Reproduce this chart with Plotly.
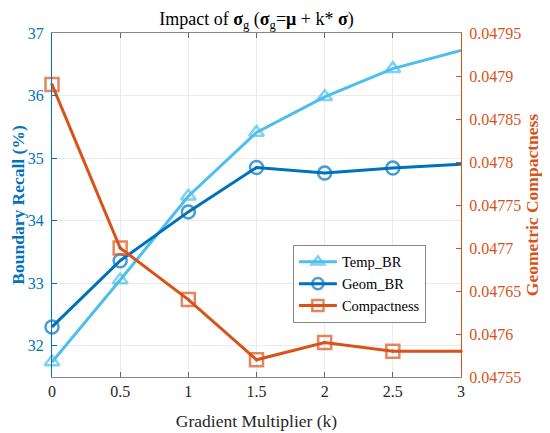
import plotly.graph_objects as go

# данные
k = [0, 0.5, 1, 1.5, 2, 2.5, 3]
temp_br = [31.74, 33.05, 34.39, 35.41, 35.98, 36.43, 36.72]
geom_br = [32.30, 33.36, 34.14, 34.85, 34.76, 34.84, 34.90]
compactness = [0.04789, 0.04770, 0.04764, 0.04757, 0.04759, 0.04758, 0.04758]

x_ticks = [0, 0.5, 1, 1.5, 2, 2.5, 3]
left_ticks = [32, 33, 34, 35, 36, 37]
right_ticks = [0.04755, 0.0476, 0.04765, 0.0477, 0.04775, 0.0478, 0.04785, 0.0479, 0.04795]

c_temp = "#4DBEEE"
c_geom = "#0072BD"
c_comp = "#D95319"
font = "Liberation Serif"

# маркер на последней точке не рисуется (в оригинале он срезан краем осей)
msize = [13] * (len(k) - 1) + [0]

fig = go.Figure()
fig.add_trace(go.Scatter(x=k, y=temp_br, name="Temp_BR", mode="lines+markers",
                         cliponaxis=False,
                         line=dict(color=c_temp, width=3),
                         marker=dict(symbol="triangle-up-open", size=msize,
                                     line=dict(width=2.5, color=c_temp))))
fig.add_trace(go.Scatter(x=k, y=geom_br, name="Geom_BR", mode="lines+markers",
                         cliponaxis=False,
                         line=dict(color=c_geom, width=3),
                         marker=dict(symbol="circle-open", size=msize,
                                     line=dict(width=2.5, color=c_geom))))
fig.add_trace(go.Scatter(x=k, y=compactness, name="Compactness", mode="lines+markers",
                         yaxis="y2", cliponaxis=False,
                         line=dict(color=c_comp, width=3),
                         marker=dict(symbol="square-open-dot", size=msize,
                                     line=dict(width=2.5, color=c_comp))))

# страница имеет отступ 8px, поэтому фигура чуть меньше окна
fig.update_layout(
    width=542, height=425,
    margin=dict(l=44, r=89, t=25, b=56),
    paper_bgcolor="white", plot_bgcolor="white",
    font=dict(family=font, size=16, color="#262626"),
    title=dict(text="Impact of <b>σ</b><sub>g</sub> (<b>σ</b><sub>g</sub>=<b>μ</b> + k* <b>σ</b>)",
               x=0.5, xref="paper", xanchor="center", y=0.99, yanchor="top",
               font=dict(family=font, size=18, color="black")),
    xaxis=dict(range=[0, 3], tickvals=x_ticks, ticktext=[f"{v:g}" for v in x_ticks],
               automargin=False,
               ticks="inside", ticklen=5, tickcolor="#666", showline=True,
               linecolor="#888", linewidth=1, mirror="ticks",
               showgrid=True, gridcolor="#ebebeb", gridwidth=1, zeroline=False,
               tickfont=dict(family=font, size=16, color="#262626"),
               title=dict(text="Gradient Multiplier (k)", standoff=15,
                          font=dict(family=font, size=17.5, color="#262626"))),
    yaxis=dict(range=[31.5, 37], tickvals=left_ticks, automargin=False,
               ticks="inside", ticklen=5, tickcolor=c_geom, showline=True,
               linecolor=c_geom, linewidth=1,
               showgrid=True, gridcolor="#ebebeb", gridwidth=1, zeroline=False,
               tickfont=dict(family=font, size=16, color=c_geom),
               ticklabelstandoff=4,
               title=dict(text="<b>Boundary Recall (%)</b>", standoff=1,
                          font=dict(family=font, size=17.5, color=c_geom))),
    yaxis2=dict(range=[0.04755, 0.04795], overlaying="y", side="right",
                tickvals=right_ticks, ticktext=[f"{v:g}" for v in right_ticks],
                automargin=False,
                ticks="inside", ticklen=5, tickcolor=c_comp, showline=True,
                linecolor=c_comp, linewidth=1, showgrid=False, zeroline=False,
                tickfont=dict(family=font, size=16, color=c_comp),
                ticklabelstandoff=4,
                title=dict(text="<b>Geometric Compactness</b>", standoff=5,
                           font=dict(family=font, size=17.5, color=c_comp))),
    legend=dict(x=0.589, y=0.384, xanchor="left", yanchor="top",
                bgcolor="white", bordercolor="#888", borderwidth=1,
                font=dict(family=font, size=14.5, color="black"), tracegroupgap=0,
                itemwidth=38),
    showlegend=True,
)

fig.write_html("out.html")
